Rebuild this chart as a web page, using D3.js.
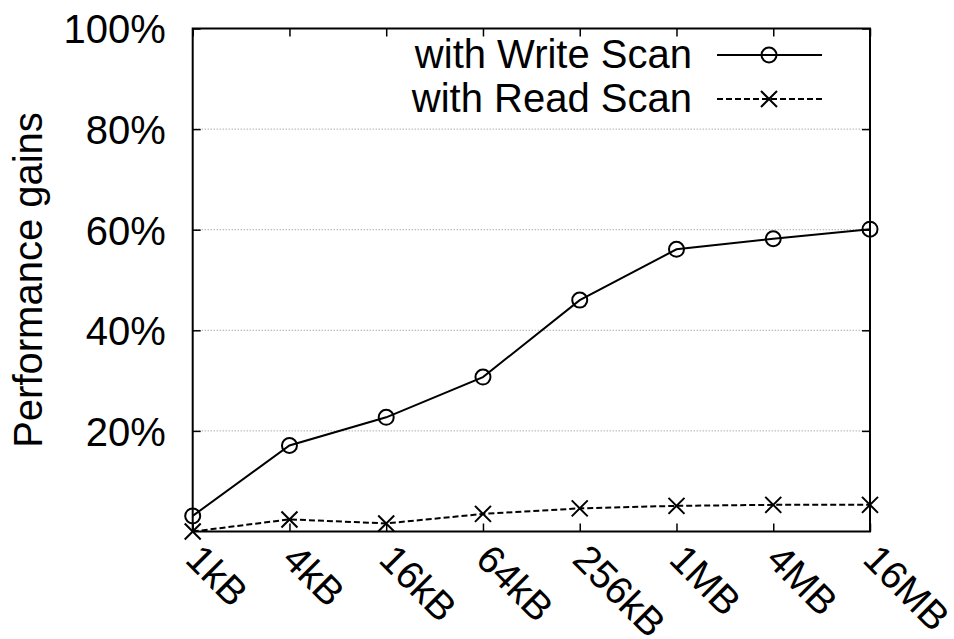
<!DOCTYPE html>
<html>
<head>
<meta charset="utf-8">
<script src="https://cdn.jsdelivr.net/npm/d3@7"></script>
<style>
  body { margin: 0; background: #fff; }
  svg text { font-family: "Liberation Sans", Arial, sans-serif; fill: #000; }
</style>
</head>
<body>
<div id="chart"></div>
<script>
// data
var sizes = ["1kB", "4kB", "16kB", "64kB", "256kB", "1MB", "4MB", "16MB"];
var writeScan = [3.1, 17.1, 22.7, 30.7, 46.0, 56.1, 58.2, 60.1];
var readScan = [0, 2.4, 1.6, 3.5, 4.6, 5.1, 5.3, 5.3];
var yTicks = [20, 40, 60, 80, 100];
var seriesNames = ["with Write Scan", "with Read Scan"];

var width = 954, height = 639;
var plotLeft = 192.7, plotRight = 870, plotTop = 28.5, plotBottom = 531.5;
var fontSize = 40;

var svg = d3.select("#chart")
    .append("svg")
    .attr("width", width)
    .attr("height", height);

var xScale = d3.scalePoint().domain(sizes).range([plotLeft, plotRight]);
var yScale = d3.scaleLinear().domain([0, 100]).range([plotBottom, plotTop]);

// dotted grid
svg.append("g")
    .selectAll("line")
    .data(yTicks.filter(function(d) { return d < 100; }))
    .enter().append("line")
    .attr("x1", plotLeft).attr("x2", plotRight)
    .attr("y1", function(d) { return yScale(d); })
    .attr("y2", function(d) { return yScale(d); })
    .attr("stroke", "#888")
    .attr("stroke-width", 1)
    .attr("stroke-dasharray", "1,2");

// y axis labels on the left, inward ticks on both sides
var yAxis = d3.axisLeft(yScale)
    .tickValues(yTicks)
    .tickSize(-8)
    .tickPadding(27)
    .tickFormat(function(d) { return d + "%"; });

var gy = svg.append("g")
    .attr("transform", "translate(" + plotLeft + ",0)")
    .call(yAxis);
gy.select(".domain").remove();
gy.selectAll("text").style("font-size", fontSize + "px").attr("dy", "0.36em");
gy.selectAll("line").attr("stroke", "#000").attr("stroke-width", 1.5);

var gy2 = svg.append("g")
    .attr("transform", "translate(" + plotRight + ",0)")
    .call(d3.axisRight(yScale).tickValues(yTicks).tickSize(-8).tickFormat(""));
gy2.select(".domain").remove();
gy2.selectAll("line").attr("stroke", "#000").attr("stroke-width", 1.5);

// x axis
var xAxis = d3.axisBottom(xScale).tickSize(-8).tickFormat("");
var gx = svg.append("g")
    .attr("transform", "translate(0," + plotBottom + ")")
    .call(xAxis);
gx.select(".domain").remove();
gx.selectAll("line").attr("stroke", "#000").attr("stroke-width", 1.5);

var gx2 = svg.append("g")
    .attr("transform", "translate(0," + plotTop + ")")
    .call(d3.axisTop(xScale).tickSize(-8).tickFormat(""));
gx2.select(".domain").remove();
gx2.selectAll("line").attr("stroke", "#000").attr("stroke-width", 1.5);

svg.append("g")
    .selectAll("text")
    .data(sizes)
    .enter().append("text")
    .attr("transform", function(d) {
        return "translate(" + (xScale(d) + 11) + "," + (plotBottom + 10) + ") rotate(45)";
    })
    .attr("dy", "0.72em")
    .style("font-size", "39px")
    .text(function(d) { return d; });

// frame
svg.append("rect")
    .attr("x", plotLeft).attr("y", plotTop)
    .attr("width", plotRight - plotLeft).attr("height", plotBottom - plotTop)
    .attr("fill", "none")
    .attr("stroke", "#000")
    .attr("stroke-width", 2);

// y label
svg.append("text")
    .attr("transform", "translate(42," + ((plotTop + plotBottom) / 2) + ") rotate(-90)")
    .attr("text-anchor", "middle")
    .style("font-size", fontSize + "px")
    .text("Performance gains");

var line = d3.line()
    .x(function(d, i) { return xScale(sizes[i]); })
    .y(function(d) { return yScale(d); });

var cross = function(sel, r) {
    sel.append("path")
        .attr("d", "M" + (-r) + "," + (-r) + "L" + r + "," + r + "M" + (-r) + "," + r + "L" + r + "," + (-r))
        .attr("stroke", "#000")
        .attr("stroke-width", 2)
        .attr("fill", "none");
};

// read scan
svg.append("path")
    .datum(readScan)
    .attr("d", line)
    .attr("fill", "none")
    .attr("stroke", "#000")
    .attr("stroke-width", 2)
    .attr("stroke-dasharray", "6,3");

svg.append("g")
    .selectAll("g")
    .data(readScan)
    .enter().append("g")
    .attr("transform", function(d, i) { return "translate(" + xScale(sizes[i]) + "," + yScale(d) + ")"; })
    .call(cross, 8);

// write scan
svg.append("path")
    .datum(writeScan)
    .attr("d", line)
    .attr("fill", "none")
    .attr("stroke", "#000")
    .attr("stroke-width", 2);

svg.append("g")
    .selectAll("circle")
    .data(writeScan)
    .enter().append("circle")
    .attr("cx", function(d, i) { return xScale(sizes[i]); })
    .attr("cy", function(d) { return yScale(d); })
    .attr("r", 7.5)
    .attr("fill", "none")
    .attr("stroke", "#000")
    .attr("stroke-width", 2);

// legend
var legend = svg.append("g");
var rows = [{y: 55, dash: null}, {y: 99, dash: "6,3"}];
seriesNames.forEach(function(name, i) {
    var r = rows[i];
    legend.append("text")
        .attr("x", 692)
        .attr("y", r.y)
        .attr("dy", "0.33em")
        .attr("text-anchor", "end")
        .style("font-size", fontSize + "px")
        .text(name);
    legend.append("line")
        .attr("x1", 717).attr("x2", 822)
        .attr("y1", r.y).attr("y2", r.y)
        .attr("stroke", "#000")
        .attr("stroke-width", 2)
        .attr("stroke-dasharray", r.dash);
    var m = legend.append("g").attr("transform", "translate(769," + r.y + ")");
    if (i === 0) {
        m.append("circle").attr("r", 7.5).attr("fill", "none")
            .attr("stroke", "#000").attr("stroke-width", 2);
    } else {
        cross(m, 8);
    }
});
</script>
</body>
</html>
